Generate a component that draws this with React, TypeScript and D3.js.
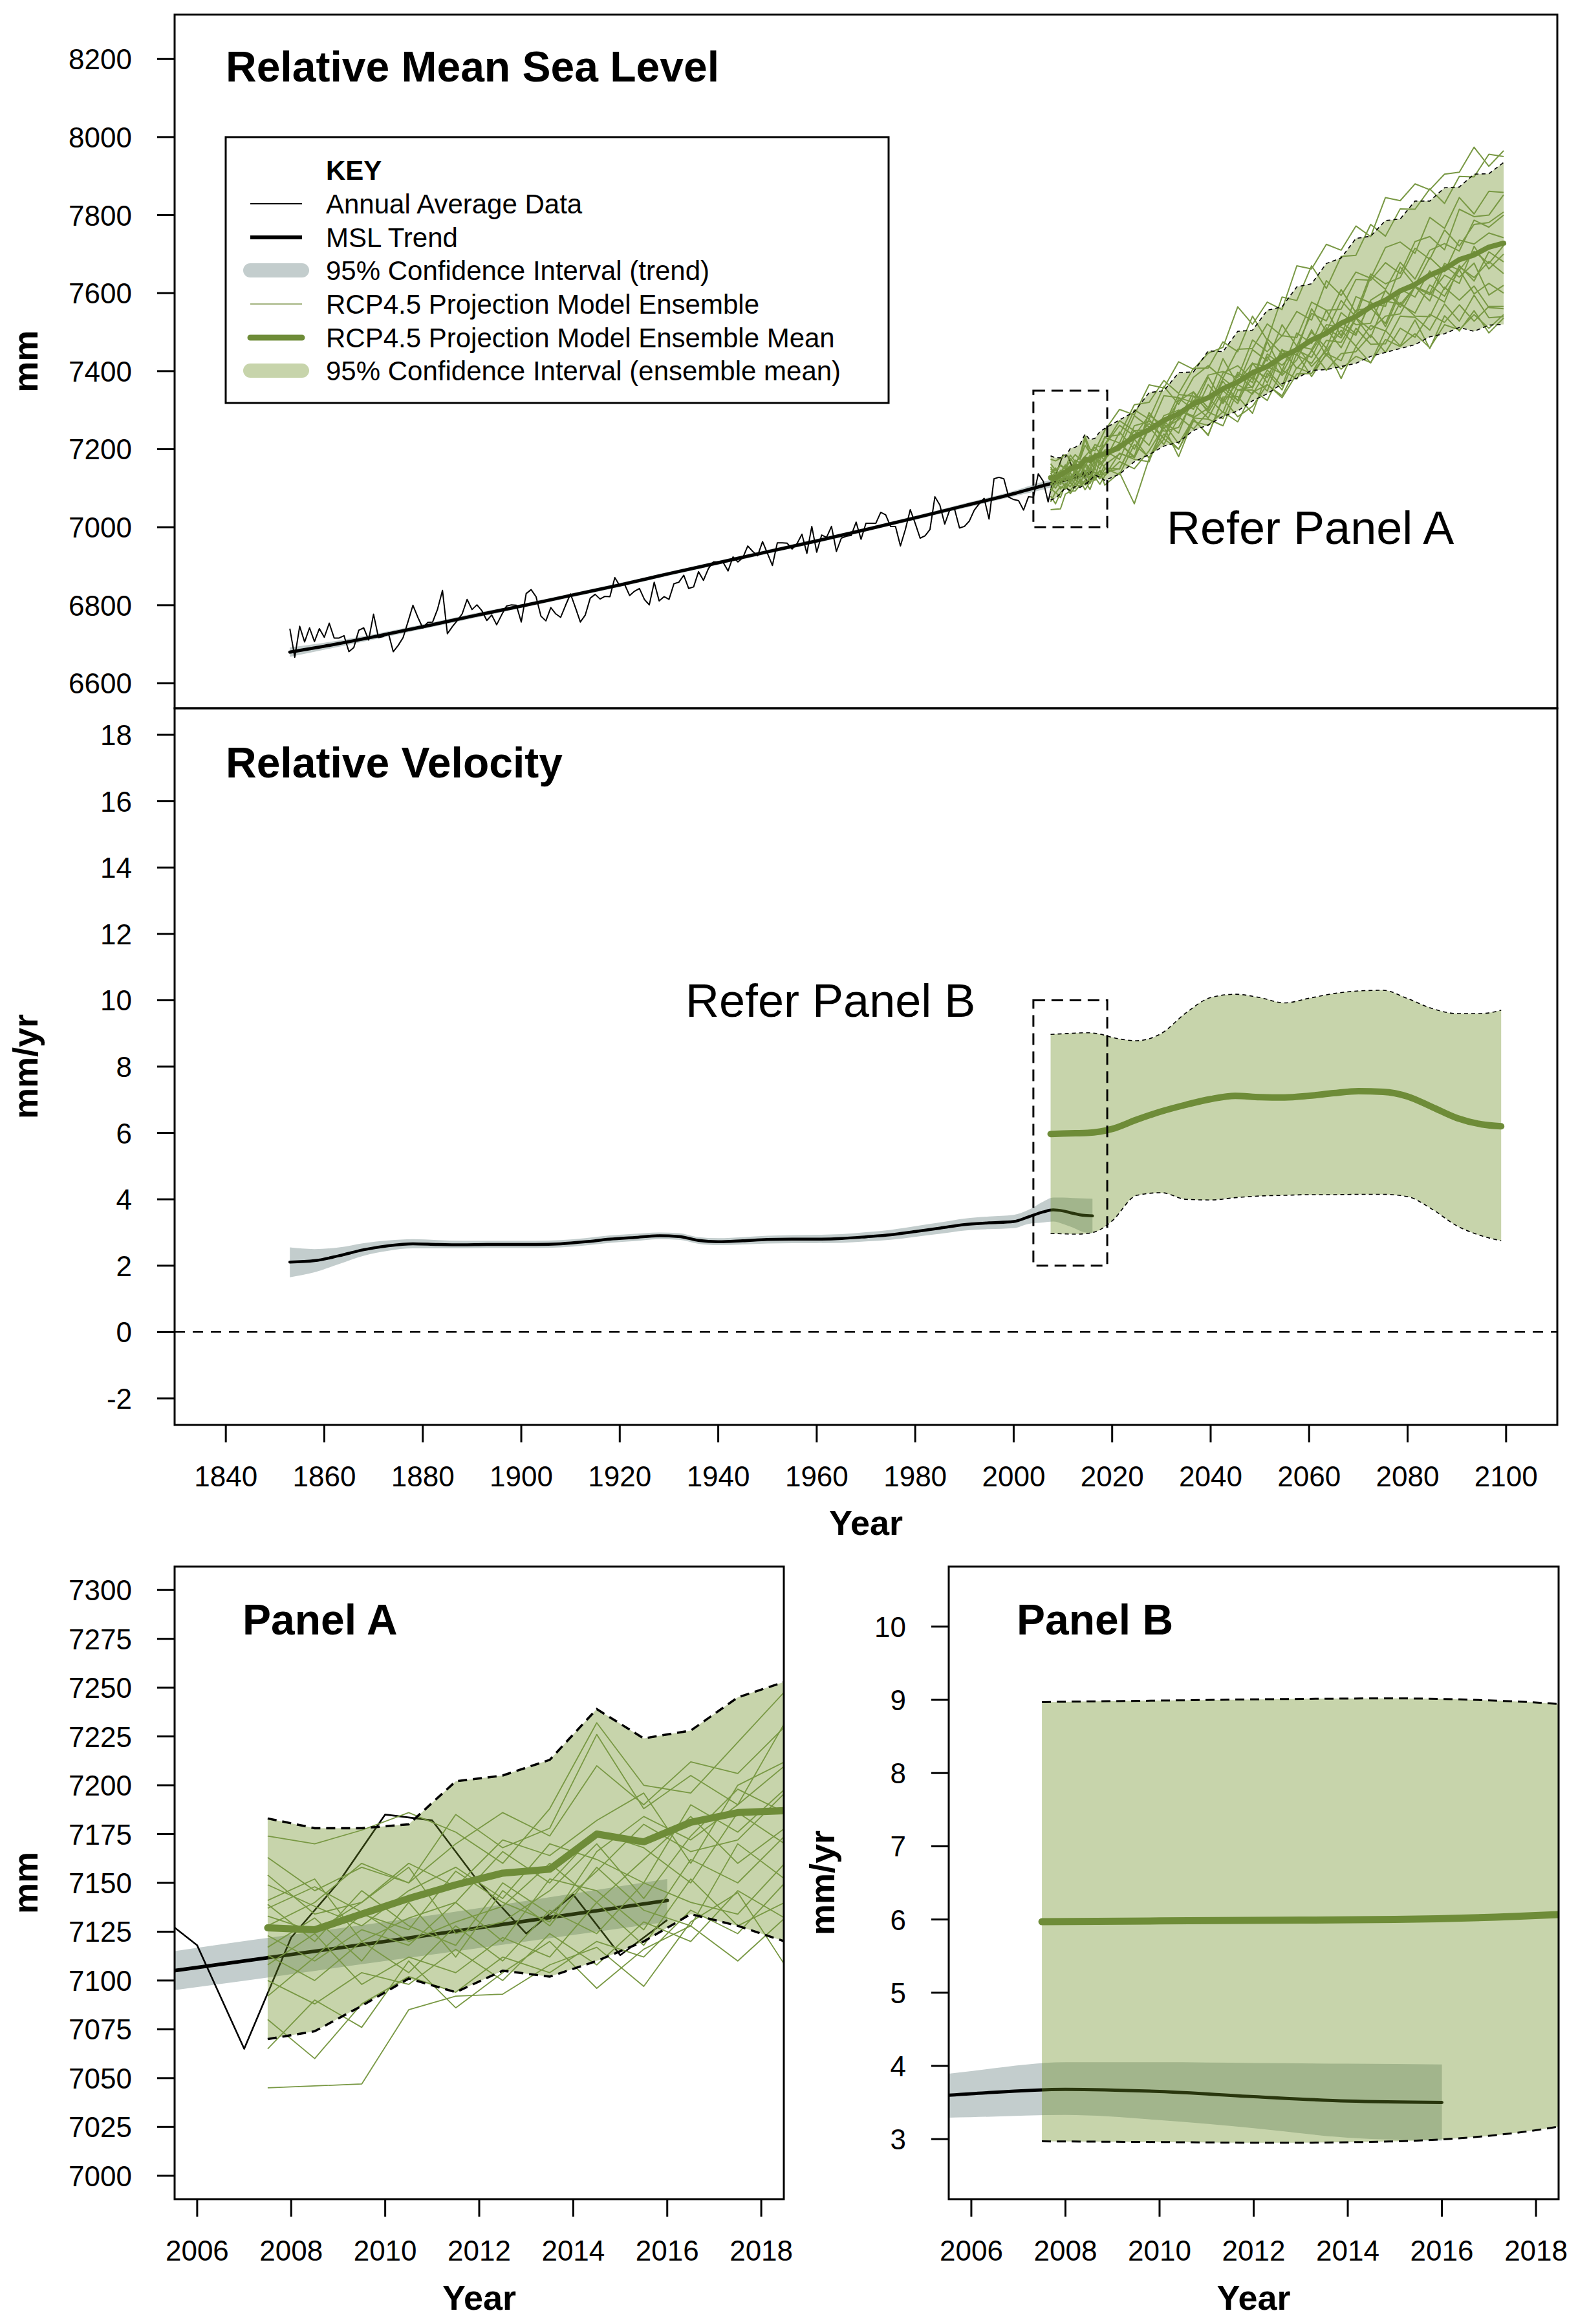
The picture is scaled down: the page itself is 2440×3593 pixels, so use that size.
import React from "react";
import * as d3 from "d3";

const FONT = '"Liberation Sans", Arial, Helvetica, sans-serif';

// ---------------- DATA ----------------
const ANNUAL_START = 1853;
const ANNUAL_MSL = [
  6740, 6667, 6746, 6706, 6742, 6707, 6740, 6718, 6754, 6716,
  6716, 6722, 6681, 6692, 6736, 6742, 6711, 6777, 6717, 6720,
  6729, 6681, 6697, 6717, 6758, 6800, 6769, 6742, 6756, 6757,
  6790, 6838, 6727, 6745, 6761, 6778, 6815, 6789, 6801, 6786,
  6761, 6775, 6750, 6775, 6798, 6801, 6800, 6757, 6830, 6840,
  6822, 6772, 6760, 6794, 6778, 6769, 6800, 6829, 6794, 6757,
  6775, 6818, 6828, 6816, 6823, 6822, 6871, 6850, 6853, 6825,
  6836, 6843, 6815, 6801, 6859, 6811, 6822, 6815, 6855, 6859,
  6877, 6843,
  6847, 6886, 6864, 6894, 6911, 6911, 6910, 6888, 6924, 6911,
  6922, 6952, 6938, 6927, 6963, 6933, 6902, 6960, 6960, 6959,
  6944, 6958, 6982, 6933, 7002, 6936, 6980, 6974, 7002, 6938,
  6972, 6977, 6979, 7013, 6969, 7010, 7010, 7010, 7038, 7032,
  7002, 7002, 6952, 6994, 7045, 7010, 6972, 6978, 6994, 7078,
  7057, 7008, 7044, 7046, 6998, 7002, 7016, 7044, 7060, 7074,
  7021, 7124, 7128, 7124, 7077, 7071, 7068, 7044, 7078, 7077,
  7137, 7118, 7065, 7122, 7150, 7185, 7182, 7150, 7124, 7144,
  7113, 7131,
];

const TREND_YEARS = [1853, 1860, 1870, 1880, 1890, 1900, 1910, 1920, 1930, 1940, 1950, 1960, 1970, 1980, 1990, 2000, 2005.5, 2010, 2016];
const TREND_MSL = [6680, 6695, 6719, 6745, 6772, 6798, 6825, 6852, 6881, 6909, 6937, 6965, 6994, 7024, 7055, 7086, 7105, 7120, 7141];
const TREND_MSL_LO = [6668, 6686, 6712, 6739, 6766, 6793, 6820, 6847, 6876, 6904, 6932, 6960, 6989, 7019, 7049, 7079, 7095, 7110, 7130];
const TREND_MSL_HI = [6692, 6704, 6726, 6751, 6778, 6803, 6830, 6857, 6886, 6914, 6942, 6970, 6999, 7029, 7061, 7093, 7115, 7130, 7152];

const ENS_YEARS = [2007.5, 2008.5, 2009.5, 2010.5, 2011.5, 2012.5, 2013.5, 2014.5, 2015.5, 2016.5, 2017.5, 2018.5,
  2021.5, 2024.5, 2027.5, 2030.5, 2033.5, 2036.5, 2039.5, 2042.5, 2045.5, 2048.5, 2051.5, 2054.5, 2057.5, 2060.5,
  2063.5, 2066.5, 2069.5, 2072.5, 2075.5, 2078.5, 2081.5, 2084.5, 2087.5, 2090.5, 2093.5, 2096.5, 2099.5];
const ENS_MEAN = [7127, 7126, 7134, 7142, 7149, 7155, 7157, 7175, 7171, 7181, 7186, 7187,
  7206, 7232, 7250, 7274, 7291, 7316, 7332, 7355, 7372, 7396, 7412, 7437, 7455, 7480, 7497, 7523, 7540, 7565,
  7582, 7606, 7622, 7646, 7662, 7686, 7698, 7718, 7728];
const ENS_HI = [7183, 7178, 7178, 7180, 7202, 7205, 7213, 7239, 7224, 7228, 7245, 7253,
  7275, 7296, 7345, 7350, 7396, 7398, 7452, 7450, 7502, 7505, 7556, 7565, 7616, 7624, 7676, 7690, 7740, 7746,
  7786, 7790, 7836, 7836, 7870, 7872, 7905, 7906, 7935];
const ENS_LO = [7070, 7074, 7087, 7101, 7094, 7105, 7102, 7110, 7120, 7134, 7128, 7120,
  7136, 7168, 7186, 7208, 7218, 7248, 7262, 7284, 7298, 7324, 7342, 7368, 7382, 7402, 7404, 7412, 7420, 7438,
  7448, 7458, 7468, 7488, 7496, 7512, 7502, 7518, 7520];

const ENS_M01 = [7174, 7170, 7177, 7186, 7176, 7160, 7188, 7232, 7200, 7196, 7222, 7248, 7302, 7288, 7365, 7357, 7424, 7405, 7446, 7461, 7565, 7520, 7577, 7558, 7670, 7662, 7725, 7710, 7772, 7745, 7845, 7837, 7880, 7865, 7905, 7910, 7974, 7925, 7965];
const ENS_M02 = [7163, 7146, 7158, 7150, 7185, 7168, 7178, 7226, 7188, 7205, 7190, 7232, 7237, 7314, 7320, 7376, 7343, 7407, 7408, 7475, 7450, 7541, 7479, 7590, 7581, 7670, 7612, 7694, 7697, 7776, 7746, 7816, 7815, 7867, 7830, 7899, 7898, 7956, 7950];
const ENS_M03 = [7154, 7134, 7140, 7160, 7148, 7172, 7164, 7182, 7196, 7160, 7200, 7212, 7273, 7247, 7250, 7337, 7332, 7320, 7390, 7399, 7383, 7480, 7450, 7491, 7486, 7577, 7556, 7559, 7635, 7633, 7678, 7650, 7732, 7745, 7711, 7815, 7796, 7800, 7852];
const ENS_M04 = [7149, 7138, 7128, 7146, 7158, 7142, 7170, 7162, 7150, 7190, 7176, 7198, 7202, 7286, 7257, 7261, 7324, 7347, 7306, 7395, 7414, 7380, 7483, 7445, 7451, 7560, 7502, 7581, 7539, 7642, 7610, 7679, 7636, 7710, 7727, 7708, 7787, 7769, 7800];
const ENS_M05 = [7141, 7152, 7120, 7132, 7140, 7166, 7150, 7176, 7168, 7150, 7186, 7170, 7244, 7200, 7277, 7226, 7331, 7302, 7385, 7322, 7397, 7371, 7476, 7401, 7498, 7471, 7556, 7490, 7591, 7575, 7566, 7667, 7620, 7691, 7655, 7736, 7726, 7754, 7742];
const ENS_M06 = [7139, 7120, 7146, 7128, 7118, 7150, 7134, 7156, 7180, 7166, 7172, 7196, 7174, 7260, 7271, 7254, 7275, 7346, 7294, 7358, 7325, 7420, 7411, 7394, 7465, 7456, 7519, 7513, 7492, 7582, 7606, 7571, 7616, 7601, 7676, 7659, 7707, 7676, 7722];
const ENS_M07 = [7137, 7148, 7135, 7120, 7130, 7138, 7160, 7140, 7162, 7184, 7160, 7178, 7215, 7181, 7294, 7246, 7256, 7325, 7332, 7294, 7392, 7357, 7437, 7389, 7429, 7506, 7439, 7526, 7496, 7578, 7514, 7601, 7615, 7596, 7646, 7625, 7720, 7662, 7700];
const ENS_M08 = [7133, 7125, 7140, 7158, 7124, 7130, 7146, 7170, 7142, 7174, 7198, 7186, 7198, 7247, 7210, 7286, 7300, 7281, 7305, 7374, 7324, 7386, 7349, 7454, 7442, 7420, 7479, 7474, 7537, 7506, 7541, 7547, 7616, 7600, 7577, 7671, 7631, 7706, 7680];
const ENS_M09 = [7123, 7110, 7126, 7118, 7140, 7120, 7152, 7146, 7126, 7162, 7150, 7174, 7215, 7178, 7252, 7271, 7241, 7336, 7300, 7381, 7352, 7360, 7444, 7415, 7454, 7435, 7511, 7485, 7556, 7562, 7522, 7610, 7590, 7657, 7610, 7667, 7640, 7681, 7650];
const ENS_M10 = [7117, 7132, 7110, 7140, 7112, 7146, 7128, 7158, 7136, 7128, 7170, 7152, 7149, 7225, 7266, 7228, 7300, 7285, 7366, 7317, 7373, 7421, 7370, 7453, 7442, 7500, 7459, 7550, 7519, 7523, 7607, 7564, 7616, 7580, 7670, 7641, 7677, 7595, 7620];
const ENS_M11 = [7113, 7100, 7120, 7104, 7128, 7110, 7136, 7124, 7150, 7140, 7134, 7160, 7188, 7179, 7257, 7212, 7281, 7315, 7280, 7350, 7317, 7402, 7384, 7456, 7407, 7451, 7509, 7460, 7536, 7486, 7580, 7571, 7549, 7621, 7592, 7660, 7598, 7625, 7600];
const ENS_M12 = [7108, 7124, 7098, 7112, 7104, 7122, 7112, 7140, 7118, 7152, 7128, 7140, 7150, 7226, 7177, 7255, 7283, 7252, 7295, 7278, 7366, 7341, 7403, 7361, 7464, 7412, 7452, 7505, 7464, 7517, 7503, 7576, 7541, 7540, 7615, 7582, 7618, 7563, 7560];
const ENS_M13 = [7100, 7088, 7104, 7098, 7116, 7100, 7124, 7108, 7130, 7120, 7146, 7132, 7190, 7174, 7168, 7266, 7214, 7278, 7235, 7334, 7335, 7292, 7395, 7352, 7445, 7386, 7445, 7427, 7510, 7469, 7470, 7541, 7538, 7505, 7572, 7528, 7595, 7537, 7540];
const ENS_M14 = [7080, 7060, 7088, 7102, 7094, 7112, 7104, 7120, 7112, 7136, 7124, 7150, 7135, 7212, 7179, 7226, 7200, 7280, 7277, 7260, 7351, 7352, 7325, 7403, 7380, 7454, 7402, 7445, 7450, 7493, 7448, 7510, 7487, 7546, 7525, 7570, 7528, 7566, 7566];
const ENS_M15 = [7065, 7090, 7076, 7110, 7086, 7104, 7120, 7096, 7116, 7128, 7110, 7132, 7168, 7150, 7196, 7257, 7181, 7276, 7237, 7330, 7283, 7310, 7366, 7332, 7393, 7394, 7460, 7381, 7463, 7421, 7504, 7465, 7531, 7458, 7542, 7503, 7555, 7498, 7536];
const ENS_M16 = [7045, 7046, 7047, 7085, 7092, 7093, 7108, 7117, 7097, 7130, 7145, 7108, 7140, 7060, 7176, 7239, 7200, 7271, 7261, 7296, 7270, 7346, 7365, 7337, 7410, 7394, 7442, 7405, 7438, 7422, 7481, 7463, 7496, 7460, 7519, 7506, 7545, 7510, 7545];
const ENS_M17 = [7128, 7140, 7160, 7150, 7170, 7186, 7174, 7210, 7190, 7212, 7206, 7230, 7216, 7301, 7277, 7361, 7315, 7384, 7414, 7382, 7456, 7458, 7521, 7490, 7553, 7531, 7632, 7594, 7654, 7638, 7717, 7731, 7702, 7794, 7766, 7845, 7803, 7861, 7858];
const ENS_M18 = [7092, 7112, 7134, 7126, 7156, 7140, 7130, 7166, 7184, 7172, 7190, 7210, 7261, 7234, 7287, 7260, 7340, 7336, 7331, 7432, 7365, 7455, 7426, 7519, 7464, 7548, 7529, 7609, 7550, 7649, 7624, 7640, 7715, 7687, 7762, 7721, 7776, 7781, 7808];
const ENS_MEMBERS = [ENS_M01, ENS_M02, ENS_M03, ENS_M04, ENS_M05, ENS_M06, ENS_M07, ENS_M08, ENS_M09,
  ENS_M10, ENS_M11, ENS_M12, ENS_M13, ENS_M14, ENS_M15, ENS_M16, ENS_M17, ENS_M18];

const VEL_TREND_YEARS = [1853, 1858, 1863, 1868, 1873, 1878, 1883, 1888, 1893, 1898, 1903, 1908, 1913, 1918, 1923, 1928, 1932, 1936, 1940, 1945,
  1950, 1955, 1960, 1965, 1970, 1975, 1980, 1985, 1990, 1995, 2000, 2003, 2006, 2008, 2010, 2012, 2014, 2016];
const VEL_TREND = [2.11, 2.15, 2.3, 2.48, 2.6, 2.66, 2.64, 2.63, 2.64, 2.64, 2.64, 2.66, 2.72, 2.8, 2.85, 2.9, 2.88, 2.76, 2.72, 2.75,
  2.79, 2.8, 2.8, 2.82, 2.87, 2.93, 3.03, 3.13, 3.24, 3.29, 3.33, 3.47, 3.62, 3.68, 3.65, 3.58, 3.52, 3.5];
const VEL_TREND_LO = [1.65, 1.8, 2.05, 2.3, 2.45, 2.52, 2.52, 2.52, 2.53, 2.53, 2.53, 2.55, 2.61, 2.69, 2.74, 2.8, 2.78, 2.66, 2.62, 2.64,
  2.67, 2.68, 2.68, 2.69, 2.73, 2.78, 2.87, 2.96, 3.06, 3.1, 3.13, 3.26, 3.3, 3.33, 3.26, 3.15, 3.02, 2.98];
const VEL_TREND_HI = [2.55, 2.5, 2.55, 2.68, 2.76, 2.8, 2.77, 2.75, 2.75, 2.75, 2.75, 2.77, 2.83, 2.91, 2.96, 3.0, 2.98, 2.86, 2.83, 2.86,
  2.9, 2.92, 2.93, 2.95, 3.01, 3.08, 3.19, 3.3, 3.42, 3.48, 3.53, 3.68, 3.93, 4.05, 4.05, 4.04, 4.03, 4.02];

const VEL_PROJ_YEARS = [2007.5, 2010, 2012.5, 2015, 2017.5, 2020, 2025, 2030, 2035, 2040, 2045, 2050, 2055, 2060, 2065, 2070, 2075, 2080, 2085, 2090, 2095, 2099];
const VEL_PROJ_MEAN = [5.97, 5.98, 5.99, 6.0, 6.04, 6.12, 6.4, 6.65, 6.85, 7.02, 7.12, 7.08, 7.07, 7.12, 7.2, 7.26, 7.24, 7.1, 6.78, 6.45, 6.26, 6.2];
const VEL_PROJ_HI = [8.97, 8.99, 9.01, 9.02, 8.98, 8.88, 8.78, 9.0, 9.62, 10.08, 10.18, 10.08, 9.92, 10.06, 10.2, 10.28, 10.3, 10.05, 9.75, 9.6, 9.6, 9.7];
const VEL_PROJ_LO = [2.97, 2.96, 2.95, 2.97, 3.08, 3.35, 4.12, 4.2, 4.0, 3.98, 4.05, 4.1, 4.12, 4.14, 4.14, 4.15, 4.15, 4.08, 3.7, 3.2, 2.9, 2.75];

const TOP_Y_TICKS = [6600, 6800, 7000, 7200, 7400, 7600, 7800, 8000, 8200];
const VEL_Y_TICKS = [-2, 0, 2, 4, 6, 8, 10, 12, 14, 16, 18];
const YEAR_TICKS = [1840, 1860, 1880, 1900, 1920, 1940, 1960, 1980, 2000, 2020, 2040, 2060, 2080, 2100];
const PA_Y_TICKS = [7000, 7025, 7050, 7075, 7100, 7125, 7150, 7175, 7200, 7225, 7250, 7275, 7300];
const PB_Y_TICKS = [3, 4, 5, 6, 7, 8, 9, 10];
const ZOOM_YEAR_TICKS = [2006, 2008, 2010, 2012, 2014, 2016, 2018];

const LEGEND_LABELS = [
  "Annual Average Data",
  "MSL Trend",
  "95% Confidence Interval (trend)",
  "RCP4.5 Projection Model Ensemble",
  "RCP4.5 Projection Model Ensemble Mean",
  "95% Confidence Interval (ensemble mean)",
];

// ---------------- STYLE ----------------
const TREND_BAND = "#c3cdcd";
const GREEN_FILL = "#6b8e23";
const GREEN_ALPHA = 0.38;
const ENS_LINE = "#789843";
const MEAN_LINE = "#6e8c38";

type Sc = d3.ScaleLinear<number, number>;

function linePath(xs: number[], ys: number[], xS: Sc, yS: Sc, curve: d3.CurveFactory = d3.curveLinear) {
  return d3.line<number>().x((_, i) => xS(xs[i])).y((d) => yS(d)).curve(curve)(ys) || "";
}
function areaPath(xs: number[], lo: number[], hi: number[], xS: Sc, yS: Sc, curve: d3.CurveFactory = d3.curveLinear) {
  return d3.area<number>().x((_, i) => xS(xs[i])).y0((_, i) => yS(lo[i])).y1((d) => yS(d)).curve(curve)(hi) || "";
}

function YAxis({ scale, ticks, left }: { scale: Sc; ticks: number[]; left: number }) {
  return (
    <g>
      {ticks.map((t) => (
        <g key={t}>
          <line x1={left - 27} x2={left} y1={scale(t)} y2={scale(t)} stroke="#000" strokeWidth={3} />
          <text x={left - 66} y={scale(t) + 16} textAnchor="end" fontSize={44} fontFamily={FONT}>
            {String(t)}
          </text>
        </g>
      ))}
    </g>
  );
}
function XAxis({ scale, ticks, bottom }: { scale: Sc; ticks: number[]; bottom: number }) {
  return (
    <g>
      {ticks.map((t) => (
        <g key={t}>
          <line x1={scale(t)} x2={scale(t)} y1={bottom} y2={bottom + 27} stroke="#000" strokeWidth={3} />
          <text x={scale(t)} y={bottom + 95} textAnchor="middle" fontSize={44} fontFamily={FONT}>
            {String(t)}
          </text>
        </g>
      ))}
    </g>
  );
}

export default function App() {
  const TOP = { l: 270, r: 2408, t: 22.5, b: 1095 };
  const VEL = { l: 270, r: 2408, t: 1095, b: 2203 };
  const PA = { l: 270, r: 1212, t: 2422, b: 3400 };
  const PB = { l: 1467, r: 2410, t: 2422, b: 3400 };

  const x = d3.scaleLinear().domain([1829.6, 2110.4]).range([TOP.l, TOP.r]);
  const yTop = d3.scaleLinear().domain([6536, 8314]).range([TOP.b, TOP.t]);
  const yVel = d3.scaleLinear().domain([-2.8, 18.8]).range([VEL.b, VEL.t]);
  const xA = d3.scaleLinear().domain([2005.52, 2018.48]).range([PA.l, PA.r]);
  const yA = d3.scaleLinear().domain([6988, 7312]).range([PA.b, PA.t]);
  const xB = d3.scaleLinear().domain([2005.52, 2018.48]).range([PB.l, PB.r]);
  const yB = d3.scaleLinear().domain([2.18, 10.82]).range([PB.b, PB.t]);

  const annualYears = ANNUAL_MSL.map((_, i) => ANNUAL_START + i);
  const smooth = d3.curveMonotoneX;

  const panelRect = (p: { l: number; r: number; t: number; b: number }) => (
    <rect x={p.l} y={p.t} width={p.r - p.l} height={p.b - p.t} fill="none" stroke="#000" strokeWidth={3} />
  );
  const clipRect = (id: string, p: { l: number; r: number; t: number; b: number }) => (
    <clipPath id={id}>
      <rect x={p.l} y={p.t} width={p.r - p.l} height={p.b - p.t} />
    </clipPath>
  );

  const mslLayers = (xS: Sc, yS: Sc, big: boolean) => (
    <g>
      <path d={areaPath(TREND_YEARS, TREND_MSL_LO, TREND_MSL_HI, xS, yS, smooth)} fill={TREND_BAND} />
      <path d={linePath(annualYears, ANNUAL_MSL, xS, yS)} fill="none" stroke="#000" strokeWidth={big ? 2.6 : 2} strokeLinejoin="round" />
      <path d={linePath(TREND_YEARS, TREND_MSL, xS, yS, smooth)} fill="none" stroke="#000" strokeWidth={big ? 5.5 : 5} strokeLinecap="round" />
      <path d={areaPath(ENS_YEARS, ENS_LO, ENS_HI, xS, yS)} fill={GREEN_FILL} fillOpacity={GREEN_ALPHA} />
      {ENS_MEMBERS.map((m, i) => (
        <path key={i} d={linePath(ENS_YEARS, m, xS, yS)} fill="none" stroke={ENS_LINE} strokeWidth={big ? 1.8 : 2} strokeLinejoin="round" />
      ))}
      <path d={linePath(ENS_YEARS, ENS_MEAN, xS, yS)} fill="none" stroke={MEAN_LINE} strokeWidth={big ? 11 : 8} strokeLinecap="round" strokeLinejoin="round" />
      <path d={linePath(ENS_YEARS, ENS_HI, xS, yS)} fill="none" stroke="#000" strokeWidth={big ? 3.5 : 1.6} strokeDasharray={big ? "14,9" : "6,5"} />
      <path d={linePath(ENS_YEARS, ENS_LO, xS, yS)} fill="none" stroke="#000" strokeWidth={big ? 3.5 : 1.6} strokeDasharray={big ? "14,9" : "6,5"} />
    </g>
  );

  const velLayers = (xS: Sc, yS: Sc, big: boolean) => (
    <g>
      <path d={areaPath(VEL_TREND_YEARS, VEL_TREND_LO, VEL_TREND_HI, xS, yS, smooth)} fill={TREND_BAND} />
      <path d={linePath(VEL_TREND_YEARS, VEL_TREND, xS, yS, smooth)} fill="none" stroke="#000" strokeWidth={big ? 5 : 4.5} strokeLinecap="round" />
      <path d={areaPath(VEL_PROJ_YEARS, VEL_PROJ_LO, VEL_PROJ_HI, xS, yS, smooth)} fill={GREEN_FILL} fillOpacity={GREEN_ALPHA} />
      <path d={linePath(VEL_PROJ_YEARS, VEL_PROJ_MEAN, xS, yS, smooth)} fill="none" stroke={MEAN_LINE} strokeWidth={big ? 11 : 10} strokeLinecap="round" />
      <path d={linePath(VEL_PROJ_YEARS, VEL_PROJ_HI, xS, yS, smooth)} fill="none" stroke="#000" strokeWidth={big ? 3 : 1.6} strokeDasharray={big ? "14,9" : "6,5"} />
      <path d={linePath(VEL_PROJ_YEARS, VEL_PROJ_LO, xS, yS, smooth)} fill="none" stroke="#000" strokeWidth={big ? 3 : 1.6} strokeDasharray={big ? "14,9" : "6,5"} />
    </g>
  );

  const LG = { l: 349, t: 212, r: 1374, b: 623 };
  const legendBase = [330, 382, 433, 485, 537, 588];
  const sx1 = 387, sx2 = 467, tx = 504;
  const legendSample = (i: number, y: number) => {
    switch (i) {
      case 0: return <line x1={sx1} x2={sx2} y1={y} y2={y} stroke="#000" strokeWidth={1.8} />;
      case 1: return <line x1={sx1} x2={sx2} y1={y} y2={y} stroke="#000" strokeWidth={6} />;
      case 2: return <line x1={sx1} x2={sx2} y1={y} y2={y} stroke={TREND_BAND} strokeWidth={22} strokeLinecap="round" />;
      case 3: return <line x1={sx1} x2={sx2} y1={y} y2={y} stroke="#a3b37f" strokeWidth={2} />;
      case 4: return <line x1={sx1} x2={sx2} y1={y} y2={y} stroke={MEAN_LINE} strokeWidth={9} strokeLinecap="round" />;
      default: return <line x1={sx1} x2={sx2} y1={y} y2={y} stroke={GREEN_FILL} strokeOpacity={GREEN_ALPHA} strokeWidth={22} strokeLinecap="round" />;
    }
  };

  return (
    <svg width={2440} height={3593} viewBox="0 0 2440 3593" style={{ position: "absolute", left: 0, top: 0, display: "block", background: "#fff" }}>
      <defs>
        {clipRect("clipTop", TOP)}
        {clipRect("clipVel", VEL)}
        {clipRect("clipA", PA)}
        {clipRect("clipB", PB)}
      </defs>
      <rect x={0} y={0} width={2440} height={3593} fill="#fff" />

      {/* ===== TOP PANEL ===== */}
      <g clipPath="url(#clipTop)">{mslLayers(x, yTop, false)}</g>
      <rect x={x(2004)} y={yTop(7350)} width={x(2019) - x(2004)} height={yTop(7000) - yTop(7350)} fill="none" stroke="#000" strokeWidth={3} strokeDasharray="18,10" />
      <text x={1804} y={841} fontSize={72} fontFamily={FONT}>Refer Panel A</text>
      <text x={349} y={126} fontSize={66} fontWeight="bold" fontFamily={FONT}>Relative Mean Sea Level</text>
      <rect x={LG.l} y={LG.t} width={LG.r - LG.l} height={LG.b - LG.t} fill="#fff" stroke="#000" strokeWidth={3} />
      <text x={tx} y={278} fontSize={42} fontWeight="bold" fontFamily={FONT}>KEY</text>
      {LEGEND_LABELS.map((lab, i) => (
        <g key={lab}>
          {legendSample(i, legendBase[i] - 15)}
          <text x={tx} y={legendBase[i]} fontSize={42} fontFamily={FONT}>{lab}</text>
        </g>
      ))}
      {panelRect(TOP)}
      <YAxis scale={yTop} ticks={TOP_Y_TICKS} left={TOP.l} />
      <text transform={`translate(58, ${(TOP.t + TOP.b) / 2}) rotate(-90)`} textAnchor="middle" fontSize={54} fontWeight="bold" fontFamily={FONT}>mm</text>

      {/* ===== VELOCITY PANEL ===== */}
      <line x1={VEL.l} x2={VEL.r} y1={yVel(0)} y2={yVel(0)} stroke="#000" strokeWidth={2.5} strokeDasharray="16,12" />
      <g clipPath="url(#clipVel)">{velLayers(x, yVel, false)}</g>
      <rect x={x(2004)} y={yVel(10)} width={x(2019) - x(2004)} height={yVel(2) - yVel(10)} fill="none" stroke="#000" strokeWidth={3} strokeDasharray="18,10" />
      <text x={1060} y={1572} fontSize={72} fontFamily={FONT}>Refer Panel B</text>
      <text x={349} y={1202} fontSize={66} fontWeight="bold" fontFamily={FONT}>Relative Velocity</text>
      {panelRect(VEL)}
      <YAxis scale={yVel} ticks={VEL_Y_TICKS} left={VEL.l} />
      <XAxis scale={x} ticks={YEAR_TICKS} bottom={VEL.b} />
      <text transform={`translate(58, ${(VEL.t + VEL.b) / 2}) rotate(-90)`} textAnchor="middle" fontSize={54} fontWeight="bold" fontFamily={FONT}>mm/yr</text>
      <text x={(VEL.l + VEL.r) / 2} y={2373} textAnchor="middle" fontSize={54} fontWeight="bold" fontFamily={FONT}>Year</text>

      {/* ===== PANEL A ===== */}
      <g clipPath="url(#clipA)">{mslLayers(xA, yA, true)}</g>
      <text x={375} y={2527} fontSize={66} fontWeight="bold" fontFamily={FONT}>Panel A</text>
      {panelRect(PA)}
      <YAxis scale={yA} ticks={PA_Y_TICKS} left={PA.l} />
      <XAxis scale={xA} ticks={ZOOM_YEAR_TICKS} bottom={PA.b} />
      <text transform={`translate(58, ${(PA.t + PA.b) / 2}) rotate(-90)`} textAnchor="middle" fontSize={54} fontWeight="bold" fontFamily={FONT}>mm</text>
      <text x={(PA.l + PA.r) / 2} y={3571} textAnchor="middle" fontSize={54} fontWeight="bold" fontFamily={FONT}>Year</text>

      {/* ===== PANEL B ===== */}
      <g clipPath="url(#clipB)">{velLayers(xB, yB, true)}</g>
      <text x={1572} y={2527} fontSize={66} fontWeight="bold" fontFamily={FONT}>Panel B</text>
      {panelRect(PB)}
      <YAxis scale={yB} ticks={PB_Y_TICKS} left={PB.l} />
      <XAxis scale={xB} ticks={ZOOM_YEAR_TICKS} bottom={PB.b} />
      <text transform={`translate(1290, ${(PB.t + PB.b) / 2}) rotate(-90)`} textAnchor="middle" fontSize={54} fontWeight="bold" fontFamily={FONT}>mm/yr</text>
      <text x={(PB.l + PB.r) / 2} y={3571} textAnchor="middle" fontSize={54} fontWeight="bold" fontFamily={FONT}>Year</text>
    </svg>
  );
}
